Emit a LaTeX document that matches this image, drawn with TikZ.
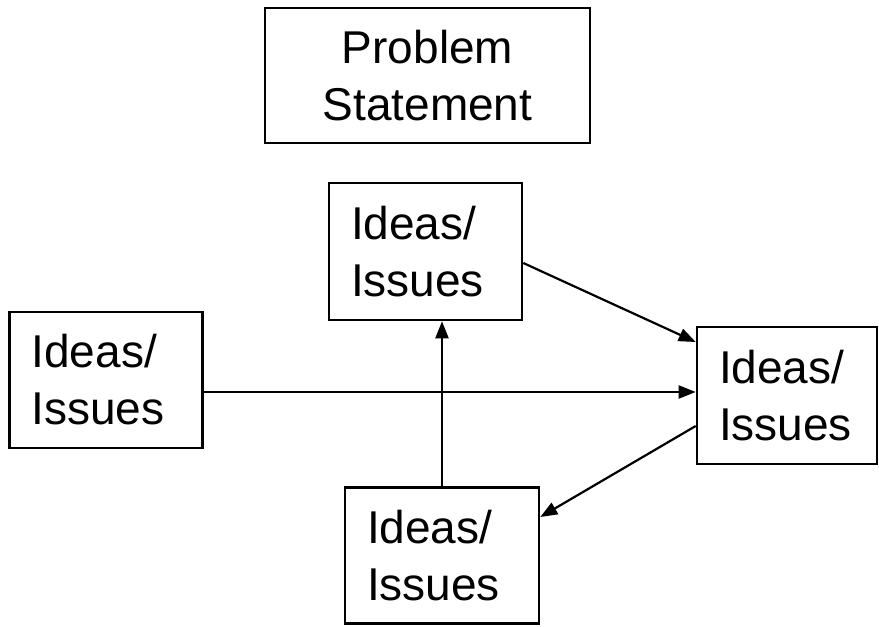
\documentclass[tikz,border=0pt]{standalone}
\usepackage{fontspec}
\setmainfont{Liberation Sans}
\usetikzlibrary{arrows.meta}
\begin{document}
\begin{tikzpicture}[x=1pt,y=-1pt,
  box/.style={draw,line width=2.6pt,inner xsep=22pt,inner ysep=0pt,
    font=\fontsize{46}{57}\selectfont},
  idea/.style={box,align=left,text width=#1-44pt},
  conn/.style={line width=2.2pt,-{Triangle[length=17pt,width=13pt]}}]
\useasboundingbox (0,0) rectangle (879,627);
\node[box,align=center,minimum width=325pt,minimum height=135pt,text width=281pt] (prob) at (427.5,75.5) {Problem\\Statement};
\node[idea=193pt,minimum height=137pt] (top) at (425.5,251.5) {Ideas/\\Issues};
\node[idea=193pt,minimum height=136pt] (left) at (106,380) {Ideas/\\Issues};
\node[idea=180pt,minimum height=137pt] (right) at (787,395.5) {Ideas/\\Issues};
\node[idea=194pt,minimum height=136pt] (bot) at (442,555.5) {Ideas/\\Issues};
\draw[conn] ([yshift=-11.5pt]top.east) -- ([yshift=53.5pt]right.west);
\draw[conn] ([yshift=-12pt]left.east) -- ([yshift=3.5pt]right.west);
\draw[conn] (bot.north) -- (top.south -| bot.north);
\draw[conn] ([yshift=-30.5pt]right.west) -- ([yshift=38.5pt]bot.east);
\end{tikzpicture}
\end{document}
